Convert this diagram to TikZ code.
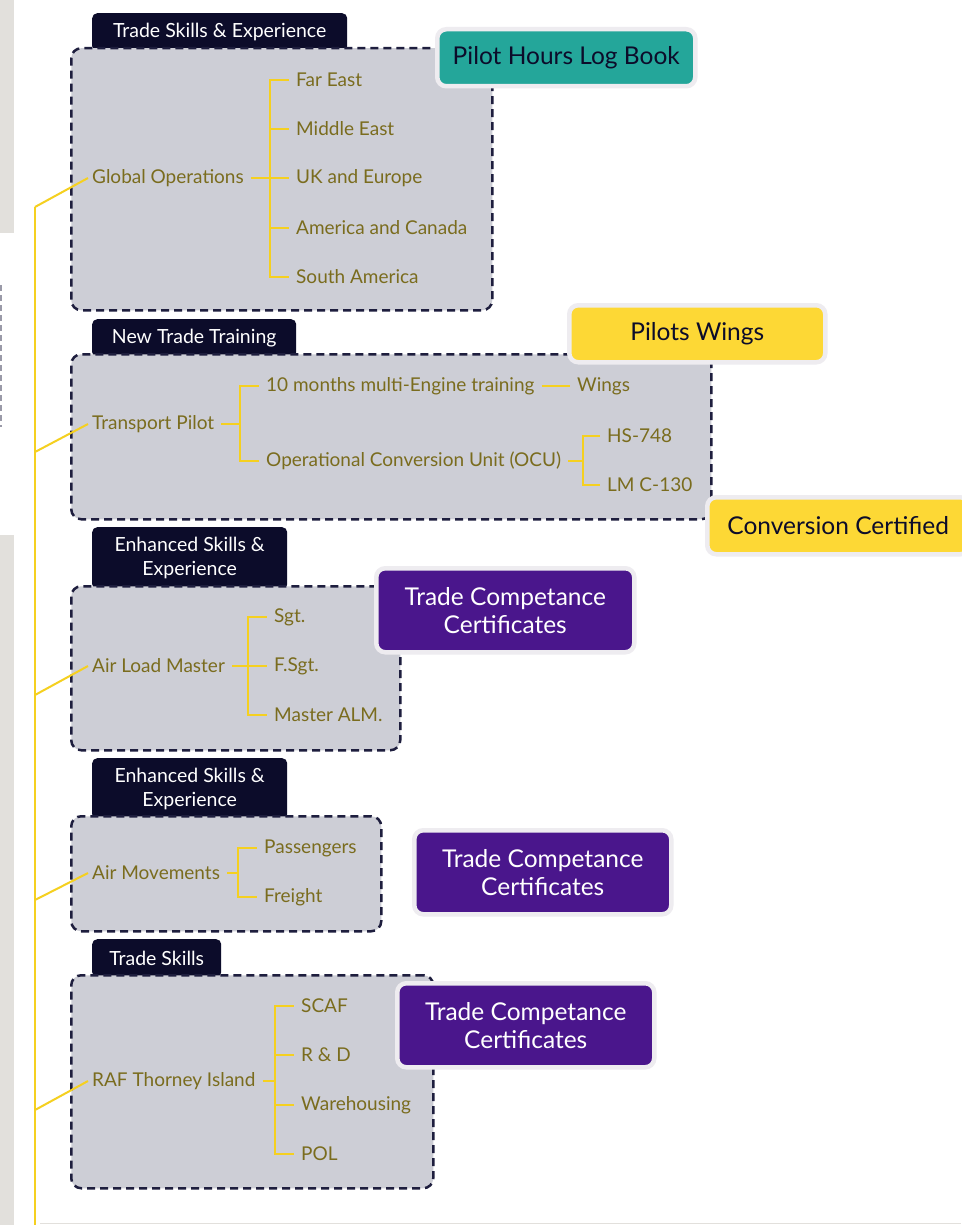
\documentclass[tikz,border=0pt]{standalone}
\usepackage{fontspec}
\setmainfont{Lato}
\usepackage{tikz}
\usetikzlibrary{arrows.meta,positioning}
\definecolor{navy}{RGB}{12,12,42}
\definecolor{dashnavy}{RGB}{30,30,62}
\definecolor{panelgrey}{RGB}{205,206,214}
\definecolor{itemtext}{RGB}{122,108,30}
\definecolor{lineyellow}{RGB}{245,208,32}
\definecolor{badgeteal}{RGB}{36,166,154}
\definecolor{badgeyellow}{RGB}{253,216,53}
\definecolor{badgepurple}{RGB}{74,22,140}
\definecolor{badgeedge}{RGB}{238,236,240}
\definecolor{stripgrey}{RGB}{226,224,220}
\tikzset{
	panel/.style={draw=dashnavy, fill=panelgrey, dash pattern=on 8pt off 5pt, line width=2.5pt, rounded corners=10pt, anchor=north west, inner sep=0pt},
	tab/.style={fill=navy, text=white, rounded corners=5pt, anchor=north west, inner sep=0pt, align=center, font=\fontsize{19.5}{24}\selectfont},
	item/.style={text=itemtext, anchor=west, inner xsep=7pt, inner ysep=2pt, font=\fontsize{19}{22}\selectfont},
	link/.style={draw=lineyellow, line width=2.5pt},
	trunk/.style={draw=lineyellow, line width=2pt},
	badge/.style={draw=badgeedge, line width=4.5pt, rounded corners=9pt, inner sep=0pt, anchor=north west, align=center, font=\fontsize{24.5}{28}\selectfont}
}
\begin{document}
\begin{tikzpicture}[x=1pt,y=-1pt]
		\useasboundingbox (0,0) rectangle (961,1225);
		\fill[white] (0,0) rectangle (961,1225);
		\fill[stripgrey] (0,0) rectangle (14,233);
		\draw[dashnavy!45, dash pattern=on 6pt off 4pt, line width=1.5pt] (1,285) -- (1,427);
		\fill[stripgrey] (0,535) rectangle (14,1225);
		\draw[stripgrey, line width=1pt] (40,1223) -- (961,1223);
		
		\node[tab, minimum width=255pt, minimum height=38pt] (tab1) at (92,13) {Trade Skills \& Experience};
		\node[panel, minimum width=421pt, minimum height=262pt] (p1) at (70,47) {};
		\node[tab, minimum width=204pt, minimum height=38pt] (tab2) at (92,319) {New Trade Training};
		\node[panel, minimum width=640pt, minimum height=165pt] (p2) at (70,353) {};
		\node[tab, minimum width=195pt, minimum height=62pt] (tab3) at (92,527) {Enhanced Skills \&\\Experience};
		\node[panel, minimum width=329pt, minimum height=164pt] (p3) at (70,585) {};
		\node[tab, minimum width=195pt, minimum height=61pt] (tab4) at (92,758) {Enhanced Skills \&\\Experience};
		\node[panel, minimum width=310pt, minimum height=115pt] (p4) at (70,815) {};
		\node[tab, minimum width=129pt, minimum height=38pt] (tab5) at (92,939) {Trade Skills};
		\node[panel, minimum width=362pt, minimum height=213pt] (p5) at (70,974) {};
		
		\node[item] (go) at (85,178) {Global Operations};
		\coordinate (j1) at (270,178);
		\node[item] (fe) at (289,80) {Far East};
		\node[item] (me) at (289,129) {Middle East};
		\node[item] (uk) at (289,178) {UK and Europe};
		\node[item] (ac) at (289,228) {America and Canada};
		\node[item] (sa) at (289,277) {South America};
		\draw[link] (go.east) -- (j1);
		\foreach \n in {fe,me,uk,ac,sa} \draw[link] (j1) |- (\n.west);
		
		\node[item] (tp) at (85,424) {Transport Pilot};
		\coordinate (j2) at (240,424);
		\node[item] (metr) at (259,386) {10 months multi-Engine training};
		\node[item] (wg) at (570,386) {Wings};
		\node[item] (ocu) at (259,461) {Operational Conversion Unit (OCU)};
		\coordinate (j3) at (583,461);
		\node[item] (hs) at (600,436) {HS-748};
		\node[item] (lm) at (600,485) {LM C-130};
		\draw[link] (tp.east) -- (j2);
		\foreach \n in {metr,ocu} \draw[link] (j2) |- (\n.west);
		\draw[link] (metr.east) -- (wg.west);
		\draw[link] (ocu.east) -- (j3);
		\foreach \n in {hs,lm} \draw[link] (j3) |- (\n.west);
		
		\node[item] (alm) at (85,666) {Air Load Master};
		\coordinate (j4) at (248,666);
		\node[item] (sgt) at (267,617) {Sgt.};
		\node[item] (fsgt) at (267,666) {F.Sgt.};
		\node[item] (malm) at (267,715) {Master ALM.};
		\draw[link] (alm.east) -- (j4);
		\foreach \n in {sgt,fsgt,malm} \draw[link] (j4) |- (\n.west);
		
		\node[item] (am) at (85,873) {Air Movements};
		\coordinate (j5) at (238,873);
		\node[item] (pax) at (257,848) {Passengers};
		\node[item] (frt) at (257,897) {Freight};
		\draw[link] (am.east) -- (j5);
		\foreach \n in {pax,frt} \draw[link] (j5) |- (\n.west);
		
		\node[item] (raf) at (85,1081) {RAF Thorney Island};
		\coordinate (j6) at (275,1081);
		\node[item] (scaf) at (294,1006) {SCAF};
		\node[item] (rd) at (294,1055) {R \& D};
		\node[item] (wh) at (294,1105) {Warehousing};
		\node[item] (pol) at (294,1154) {POL};
		\draw[link] (raf.east) -- (j6);
		\foreach \n in {scaf,rd,wh,pol} \draw[link] (j6) |- (\n.west);
		
		\coordinate (b1) at (35,207);
		\coordinate (b2) at (35,452);
		\coordinate (b3) at (35,695);
		\coordinate (b4) at (35,900);
		\coordinate (b5) at (35,1110);
		\coordinate (bend) at (35,1225);
		\draw[trunk] (b1) -- (bend);
		\foreach \b/\n in {b1/go,b2/tp,b3/alm,b4/am,b5/raf} \draw[trunk] (\b) -- ([xshift=3pt]\n.west);
		
		\node[badge, fill=badgeteal, text=navy, minimum width=258pt, minimum height=57pt] (logbook) at (435,27) {Pilot Hours Log Book};
		\node[badge, fill=badgeyellow, text=navy, minimum width=256pt, minimum height=57pt] (wings) at (567,303) {Pilots Wings};
		\node[badge, fill=badgeyellow, text=navy, minimum width=262pt, minimum height=57pt] (conv) at (705,495) {Conversion Certified};
		\node[badge, fill=badgepurple, text=white, minimum width=258pt, minimum height=84pt] (tcc1) at (374,566) {Trade Competance\\Certificates};
		\node[badge, fill=badgepurple, text=white, minimum width=257pt, minimum height=84pt] (tcc2) at (412,828) {Trade Competance\\Certificates};
		\node[badge, fill=badgepurple, text=white, minimum width=257pt, minimum height=84pt] (tcc3) at (395,981) {Trade Competance\\Certificates};
		
		\end{tikzpicture}
\end{document}
